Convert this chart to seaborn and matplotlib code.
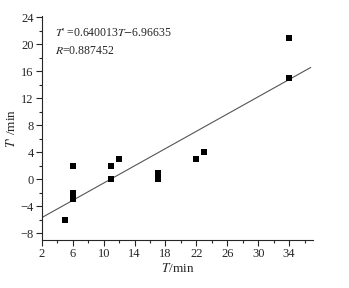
import seaborn as sns
import matplotlib.pyplot as plt
import pandas as pd
from matplotlib.ticker import MultipleLocator

# observed T vs T'
T_obs = [5, 6, 6, 6, 11, 11, 12, 17, 17, 22, 23, 34, 34]
T_prime = [-6, 2, -2, -3, 2, 0, 3, 1, 0, 3, 4, 21, 15]
slope = 0.640013
intercept = -6.96635
fit_x = [2, 36.8]

sns.set_style("ticks")
plt.rcParams['font.family'] = ['Liberation Serif', 'DejaVu Serif']
plt.rcParams['mathtext.fontset'] = 'stix'

df = pd.DataFrame({'T': T_obs, 'Tp': T_prime})
dfFit = pd.DataFrame({'T': fit_x, 'Tp': [slope * x + intercept for x in fit_x]})

fig = plt.figure(figsize=(3.49, 2.88), dpi=100)
ax = fig.add_axes([0.12, 0.167, 0.777, 0.777])

sns.lineplot(x='T', y='Tp', data=dfFit, color='#555555', linewidth=0.8, ax=ax)
sns.scatterplot(x='T', y='Tp', data=df, marker='s', s=14, color='black',
                edgecolor='black', linewidth=0, ax=ax, zorder=3)

ax.set_xlim(2, 37.1)
ax.set_ylim(-9, 24.2)
ax.xaxis.set_minor_locator(MultipleLocator(2))
ax.yaxis.set_minor_locator(MultipleLocator(2))
ax.set_xticks(range(2, 35, 4))
ax.set_yticks(range(-8, 25, 4))
ax.set_yticklabels([str(v).replace('-', '\u2212') for v in range(-8, 25, 4)])
ax.tick_params(which='major', length=4, width=0.8, labelsize=9, pad=2)
ax.tick_params(which='minor', length=2.5, width=0.8)
sns.despine(ax=ax)
for sp in ['left', 'bottom']:
    ax.spines[sp].set_linewidth(0.8)

ax.set_xlabel(r"$T$/min", fontsize=9.5, labelpad=1)
ax.set_ylabel(r"$\mathbf{\mathit{T}}$' /min", fontsize=9.5, labelpad=2)

ax.text(0.05, 0.95, r"$T$' =0.640013$T$$-$6.96635", transform=ax.transAxes,
        fontsize=8.5, va='top')
ax.text(0.05, 0.87, r"$R$=0.887452", transform=ax.transAxes,
        fontsize=8.5, va='top')

plt.savefig('out.png', dpi=100)
